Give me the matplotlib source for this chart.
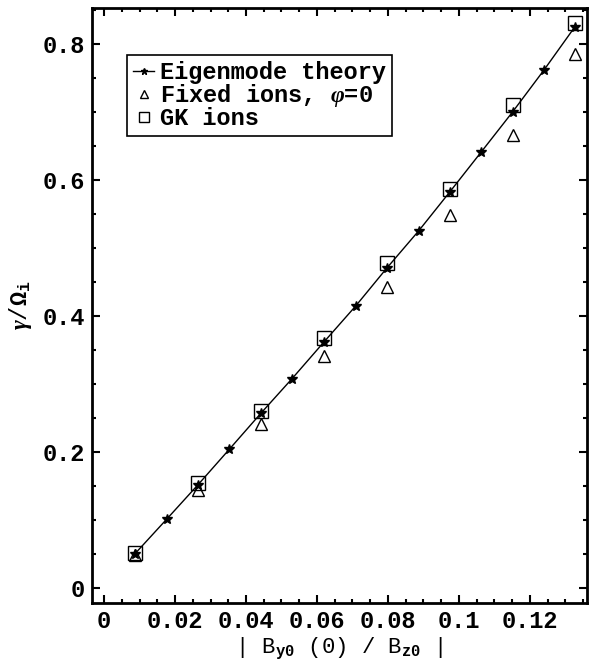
import numpy as np
import matplotlib
matplotlib.use("Agg")
import matplotlib.pyplot as plt
from matplotlib.ticker import MultipleLocator, FuncFormatter

plt.rcParams['font.family'] = ['Liberation Mono', 'DejaVu Sans']
plt.rcParams['font.weight'] = 'bold'
plt.rcParams['mathtext.fontset'] = 'custom'
plt.rcParams['mathtext.rm'] = 'Liberation Mono:bold'
plt.rcParams['mathtext.it'] = 'Liberation Serif:italic'

# eigenmode theory curve (stars)
theory_x = [0.00865, 0.0177, 0.0265, 0.0353, 0.0442, 0.0530, 0.0620, 0.0709,
            0.0796, 0.0887, 0.0975, 0.1062, 0.1151, 0.1240, 0.1327]
theory_y = [0.050, 0.1015, 0.152, 0.204, 0.257, 0.308, 0.362, 0.4147,
            0.470, 0.5255, 0.583, 0.6407, 0.700, 0.762, 0.8255]

# simulation points
sim_x = [0.0087, 0.0265, 0.0442, 0.0620, 0.0796, 0.0975, 0.1151, 0.1327]
fixed_y = [0.049, 0.144, 0.241, 0.341, 0.442, 0.5485, 0.666, 0.786]
gk_y = [0.052, 0.155, 0.261, 0.367, 0.4775, 0.587, 0.711, 0.831]

fig = plt.figure(figsize=(5.95, 6.62), dpi=100)
ax = fig.add_axes([0.1546, 0.0891, 0.8320, 0.8988])

ax.plot(theory_x, theory_y, color='black', lw=1.0, marker='*', ms=7,
        label='Eigenmode theory')
ax.plot(sim_x, fixed_y, ls='none', marker='^', ms=9, mfc='none', mec='black',
        mew=1.0, label=r'Fixed ions, $\varphi$=0')
ax.plot(sim_x, gk_y, ls='none', marker='s', ms=10.5, mfc='none', mec='black',
        mew=1.0, label='GK ions')

ax.set_xlim(-0.0034, 0.1361)
ax.set_ylim(-0.0221, 0.853)

ax.xaxis.set_major_locator(MultipleLocator(0.02))
ax.xaxis.set_minor_locator(MultipleLocator(0.005))
ax.yaxis.set_major_locator(MultipleLocator(0.2))
ax.yaxis.set_minor_locator(MultipleLocator(0.05))

def fmt(v, pos):
    s = f"{v:.2f}".rstrip('0').rstrip('.')
    return s if s not in ('-0', '') else '0'

ax.xaxis.set_major_formatter(FuncFormatter(fmt))
ax.yaxis.set_major_formatter(FuncFormatter(fmt))

ax.tick_params(which='both', direction='in', top=True, right=True,
               labelsize=17, width=1.5)
ax.tick_params(which='major', length=6, pad=5)
ax.tick_params(which='minor', length=3)
for s in ax.spines.values():
    s.set_linewidth(2)

ax.set_xlabel(r'| B$_{\rm y0}$ (0) / B$_{\rm z0}$ |', fontsize=16, labelpad=2)
ax.set_ylabel(r'$\gamma$/$\Omega_{\rm i}$', fontsize=17, labelpad=6)

leg = ax.legend(loc='upper left', bbox_to_anchor=(0.0707, 0.921), fontsize=17,
                handlelength=0.9, handletextpad=0.25, borderpad=0.25,
                labelspacing=-0.08, borderaxespad=0, fancybox=False,
                markerscale=0.7, framealpha=1, edgecolor='black')
leg.get_frame().set_linewidth(1.2)

fig.savefig('out.png', dpi=100)
